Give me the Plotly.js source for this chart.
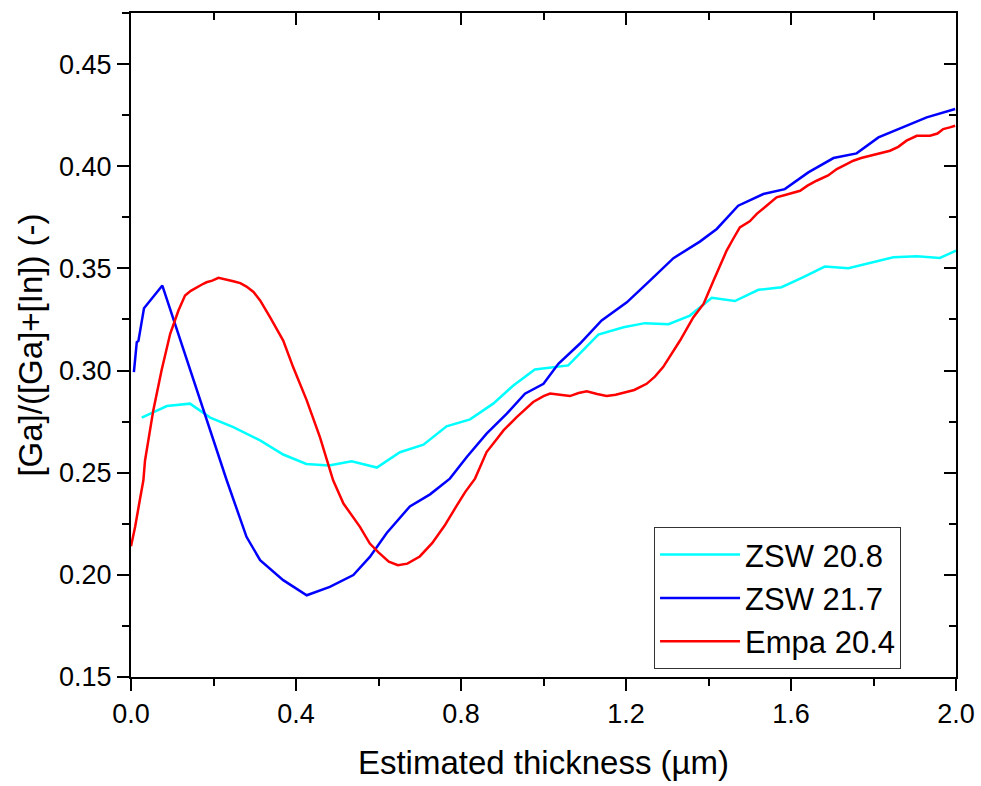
<!DOCTYPE html>
<html>
<head>
<meta charset="utf-8">
<script src="https://cdn.plot.ly/plotly-3.0.1.min.js"></script>
<style>html,body{margin:0;padding:0;background:#fff;}#chart{width:981px;height:786px;}</style>
</head>
<body>
<div id="chart"></div>
<script>
// ZSW 20.8 (cyan)
const zsw208X = [0.026, 0.087, 0.143, 0.192, 0.248, 0.313, 0.369, 0.425, 0.480, 0.535, 0.596, 0.652, 0.709, 0.765, 0.822, 0.878, 0.927, 0.979, 1.060, 1.133, 1.194, 1.246, 1.303, 1.355, 1.408, 1.464, 1.521, 1.577, 1.630, 1.682, 1.739, 1.792, 1.848, 1.905, 1.961, 2.0];
const zsw208Y = [0.277, 0.2826, 0.2838, 0.277, 0.2723, 0.2658, 0.2589, 0.2543, 0.2535, 0.2556, 0.2525, 0.260, 0.2637, 0.2727, 0.2761, 0.2838, 0.2927, 0.3005, 0.3025, 0.3176, 0.3212, 0.3232, 0.3227, 0.3269, 0.3356, 0.334, 0.3395, 0.3408, 0.3457, 0.3509, 0.3501, 0.3527, 0.3554, 0.3559, 0.3551, 0.3587];

// ZSW 21.7 (blue)
const zsw217X = [0.007, 0.014, 0.018, 0.0315, 0.076, 0.13, 0.18, 0.232, 0.280, 0.313, 0.369, 0.426, 0.482, 0.539, 0.579, 0.62, 0.676, 0.725, 0.773, 0.814, 0.862, 0.911, 0.955, 1.0, 1.036, 1.088, 1.141, 1.202, 1.258, 1.315, 1.379, 1.42, 1.472, 1.533, 1.585, 1.642, 1.703, 1.759, 1.812, 1.872, 1.929, 1.998];
const zsw217Y = [0.2992, 0.3139, 0.3145, 0.3305, 0.3416, 0.309, 0.278, 0.2463, 0.2186, 0.2072, 0.1974, 0.190, 0.1941, 0.1999, 0.2088, 0.2205, 0.2335, 0.2394, 0.2471, 0.2577, 0.2691, 0.2789, 0.2887, 0.2935, 0.3033, 0.3131, 0.3245, 0.3334, 0.344, 0.355, 0.3631, 0.3693, 0.3807, 0.3864, 0.3888, 0.397, 0.404, 0.4063, 0.4141, 0.419, 0.4239, 0.428];

// Empa 20.4 (red)
const empaX = [0.0, 0.01, 0.02, 0.03, 0.034, 0.054, 0.074, 0.095, 0.115, 0.131, 0.145, 0.159, 0.171, 0.183, 0.197, 0.212, 0.23, 0.248, 0.265, 0.28, 0.297, 0.313, 0.337, 0.369, 0.393, 0.426, 0.458, 0.49, 0.515, 0.555, 0.579, 0.60, 0.625, 0.647, 0.67, 0.70, 0.73, 0.76, 0.79, 0.81, 0.834, 0.862, 0.885, 0.903, 0.935, 0.955, 0.975, 1.0, 1.016, 1.04, 1.064, 1.085, 1.105, 1.13, 1.153, 1.175, 1.194, 1.22, 1.25, 1.27, 1.29, 1.31, 1.331, 1.363, 1.388, 1.412, 1.444, 1.46, 1.476, 1.5, 1.517, 1.54, 1.565, 1.59, 1.622, 1.64, 1.662, 1.69, 1.711, 1.73, 1.751, 1.77, 1.792, 1.815, 1.84, 1.86, 1.88, 1.905, 1.92, 1.937, 1.955, 1.969, 1.985, 1.998];
const empaY = [0.214, 0.2235, 0.235, 0.2463, 0.256, 0.2805, 0.300, 0.318, 0.3294, 0.3367, 0.339, 0.3408, 0.342, 0.3432, 0.344, 0.3454, 0.3447, 0.3437, 0.3428, 0.3411, 0.3385, 0.3343, 0.3261, 0.3147, 0.3017, 0.2854, 0.2674, 0.2463, 0.2349, 0.2235, 0.2153, 0.211, 0.2065, 0.2047, 0.2055, 0.209, 0.2155, 0.224, 0.234, 0.2405, 0.2471, 0.2601, 0.266, 0.2707, 0.2772, 0.281, 0.2846, 0.2875, 0.2887, 0.2882, 0.2875, 0.289, 0.2898, 0.2885, 0.2875, 0.2882, 0.2892, 0.2905, 0.2935, 0.297, 0.3017, 0.308, 0.3147, 0.326, 0.3326, 0.344, 0.3587, 0.3645, 0.3701, 0.373, 0.3767, 0.3805, 0.3848, 0.3862, 0.388, 0.3905, 0.3929, 0.3955, 0.3986, 0.4005, 0.4027, 0.404, 0.4051, 0.406, 0.4076, 0.4095, 0.4125, 0.4149, 0.4148, 0.4149, 0.416, 0.4182, 0.419, 0.4198];

const seriesNames = ['ZSW 20.8', 'ZSW 21.7', 'Empa 20.4'];
const seriesColors = ['#00FFFF', '#0000FF', '#FF0000'];

const FONT = 'Arial, "Liberation Sans", sans-serif';

const traces = [
  {x: zsw208X, y: zsw208Y, name: seriesNames[0], mode: 'lines', line: {color: seriesColors[0], width: 2.5}},
  {x: zsw217X, y: zsw217Y, name: seriesNames[1], mode: 'lines', line: {color: seriesColors[1], width: 2.5}},
  {x: empaX, y: empaY, name: seriesNames[2], mode: 'lines', line: {color: seriesColors[2], width: 2.5}},
  {x: [], y: [], xaxis: 'x2', yaxis: 'y2', showlegend: false, hoverinfo: 'skip', mode: 'lines'}
];

const layout = {
  width: 981, height: 786,
  margin: {l: 131, r: 25, t: 13, b: 109, pad: 0},
  paper_bgcolor: '#fff', plot_bgcolor: '#fff',
  font: {family: FONT, color: '#000', size: 27},
  showlegend: true,
  xaxis: {
    range: [0, 2], dtick: 0.4, tick0: 0, tickformat: '.1f',
    ticks: 'outside', ticklen: 12, tickwidth: 2, tickcolor: '#000',
    minor: {dtick: 0.2, tick0: 0, ticks: 'outside', ticklen: 7, tickwidth: 2, tickcolor: '#000'},
    showline: true, linewidth: 2, linecolor: '#000', showgrid: false, zeroline: false,
    tickfont: {size: 27, family: FONT},
    title: {text: 'Estimated thickness (µm)', font: {size: 33, family: FONT}, standoff: 22},
    anchor: 'y'
  },
  yaxis: {
    range: [0.15, 0.475], dtick: 0.05, tick0: 0.15, tickformat: '.2f',
    ticks: 'outside', ticklen: 12, tickwidth: 2, tickcolor: '#000',
    minor: {dtick: 0.025, tick0: 0.15, ticks: 'outside', ticklen: 7, tickwidth: 2, tickcolor: '#000'},
    showline: true, linewidth: 2, linecolor: '#000', showgrid: false, zeroline: false,
    tickfont: {size: 27, family: FONT},
    title: {text: '[Ga]/([Ga]+[In]) (-)', font: {size: 33, family: FONT}, standoff: 6},
    anchor: 'x'
  },
  xaxis2: {
    overlaying: 'x', side: 'top', anchor: 'y2', range: [0, 2], dtick: 0.4, tick0: 0,
    ticks: 'inside', ticklen: 12, tickwidth: 2, tickcolor: '#000',
    minor: {dtick: 0.2, tick0: 0, ticks: 'inside', ticklen: 7, tickwidth: 2, tickcolor: '#000'},
    showticklabels: false, showline: true, linewidth: 2, linecolor: '#000', showgrid: false, zeroline: false
  },
  yaxis2: {
    overlaying: 'y', side: 'right', anchor: 'x2', range: [0.15, 0.475], dtick: 0.05, tick0: 0.15,
    ticks: 'inside', ticklen: 12, tickwidth: 2, tickcolor: '#000',
    minor: {dtick: 0.025, tick0: 0.15, ticks: 'inside', ticklen: 7, tickwidth: 2, tickcolor: '#000'},
    showticklabels: false, showline: true, linewidth: 2, linecolor: '#000', showgrid: false, zeroline: false
  },
  legend: {
    x: 0.634, y: 0.226, xanchor: 'left', yanchor: 'top',
    bgcolor: '#fff', bordercolor: '#333', borderwidth: 1,
    font: {size: 31, family: FONT, color: '#000'},
    itemwidth: 80, tracegroupgap: 0
  }
};

Plotly.newPlot('chart', traces, layout, {staticPlot: true, displayModeBar: false});
</script>
</body>
</html>
